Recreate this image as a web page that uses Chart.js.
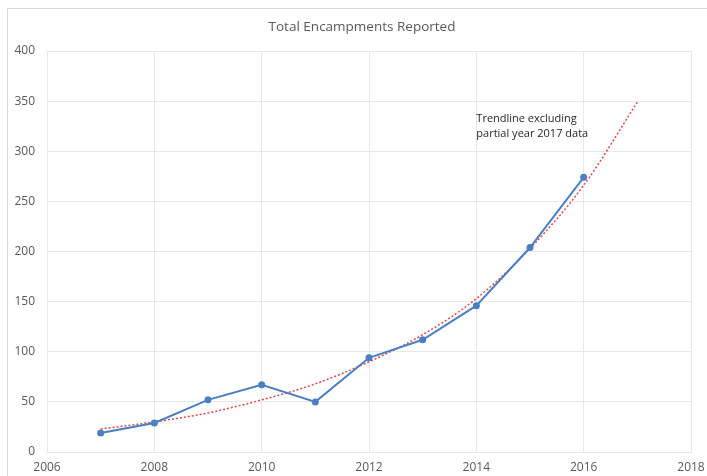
<!DOCTYPE html>
<html>
<head>
<meta charset="utf-8">
<script src="https://cdn.jsdelivr.net/npm/chart.js@4/dist/chart.umd.min.js"></script>
<style>
  html, body { margin: 0; padding: 0; background: #fff; }
  #wrap { width: 707px; height: 476px; position: relative; }
</style>
</head>
<body>
<div id="wrap"><canvas id="encampments-chart"></canvas></div>
<script>
// 資料：年度通報營地數量
const years = [2007, 2008, 2009, 2010, 2011, 2012, 2013, 2014, 2015, 2016];
const encampments = [19, 29, 52, 67, 50, 94, 112, 146, 204, 274];

// 趨勢線（不含 2017 部分年度資料）
const trendYears = [2007, 2008, 2009, 2010, 2011, 2012, 2013, 2014, 2015, 2016, 2017];
const trendValues = [23, 30, 39, 52, 68, 90, 117, 153, 203, 266, 349];

const xTicks = [2006, 2008, 2010, 2012, 2014, 2016, 2018];
const yTicks = [0, 50, 100, 150, 200, 250, 300, 350, 400];

const chartTitle = 'Total Encampments Reported';
const noteLines = ['Trendline excluding', 'partial year 2017 data'];
const noteAt = { x: 2014, y: 332 };

const gridColor = '#e8e8e8';
const textColor = '#595959';
const fontFamily = '"Open Sans", "Noto Sans", sans-serif';

// 外框、標題（置中於整個圖表框）與註解文字
const framePlugin = {
    id: 'frame',
    beforeDraw(chart) {
        const ctx = chart.ctx;
        ctx.save();
        ctx.strokeStyle = '#d9d9d9';
        ctx.lineWidth = 1;
        ctx.beginPath();
        ctx.moveTo(7.5, chart.height);
        ctx.lineTo(7.5, 8.5);
        ctx.lineTo(chart.width, 8.5);
        ctx.stroke();

        ctx.fillStyle = textColor;
        ctx.font = '13.5px ' + fontFamily;
        ctx.textAlign = 'center';
        ctx.textBaseline = 'middle';
        ctx.fillText(chartTitle, (7 + chart.width + 10) / 2, 27);
        ctx.restore();
    },
    afterDatasetsDraw(chart) {
        const ctx = chart.ctx;
        const px = chart.scales.x.getPixelForValue(noteAt.x);
        const py = chart.scales.y.getPixelForValue(noteAt.y);
        ctx.save();
        ctx.fillStyle = '#262626';
        ctx.font = '11px ' + fontFamily;
        ctx.textBaseline = 'middle';
        noteLines.forEach((line, i) => ctx.fillText(line, px, py + i * 15));
        ctx.restore();
    }
};

new Chart(document.getElementById('encampments-chart'), {
    type: 'line',
    data: {
        datasets: [{
            label: 'Encampments',
            data: years.map((y, i) => ({ x: y, y: encampments[i] })),
            borderColor: '#4a7fc1',
            backgroundColor: '#4a7fc1',
            borderWidth: 2,
            pointRadius: 3.5,
            pointBorderWidth: 0,
            tension: 0,
            order: 1
        }, {
            label: 'Trendline',
            data: trendYears.map((y, i) => ({ x: y, y: trendValues[i] })),
            borderColor: '#e04a4a',
            borderWidth: 1.5,
            borderDash: [2, 2],
            pointRadius: 0,
            cubicInterpolationMode: 'monotone',
            order: 2
        }]
    },
    options: {
        responsive: true,
        maintainAspectRatio: false,
        animation: false,
        layout: { padding: { left: 0, right: 16, top: 51, bottom: 0 } },
        plugins: {
            legend: { display: false },
            tooltip: { enabled: false },
            title: { display: false }
        },
        scales: {
            x: {
                type: 'linear',
                min: 2006,
                max: 2018,
                afterBuildTicks(axis) { axis.ticks = xTicks.map(v => ({ value: v })); },
                afterFit(axis) {
                    axis.height = 24;
                    axis.paddingRight = 0;
                    axis.paddingLeft = 0;
                },
                grid: { color: gridColor, drawTicks: false },
                border: { color: gridColor },
                ticks: {
                    color: textColor,
                    padding: 8,
                    font: { family: fontFamily, size: 12 },
                    callback: v => String(v)
                }
            },
            y: {
                min: 0,
                max: 400,
                afterBuildTicks(axis) { axis.ticks = yTicks.map(v => ({ value: v })); },
                afterFit(axis) {
                    axis.width = 47;
                    axis.paddingTop = 0;
                    axis.paddingBottom = 0;
                },
                grid: { color: gridColor, drawTicks: false },
                border: { color: gridColor },
                ticks: {
                    color: textColor,
                    padding: 12,
                    font: { family: fontFamily, size: 12 }
                }
            }
        }
    },
    plugins: [framePlugin]
});
</script>
</body>
</html>
